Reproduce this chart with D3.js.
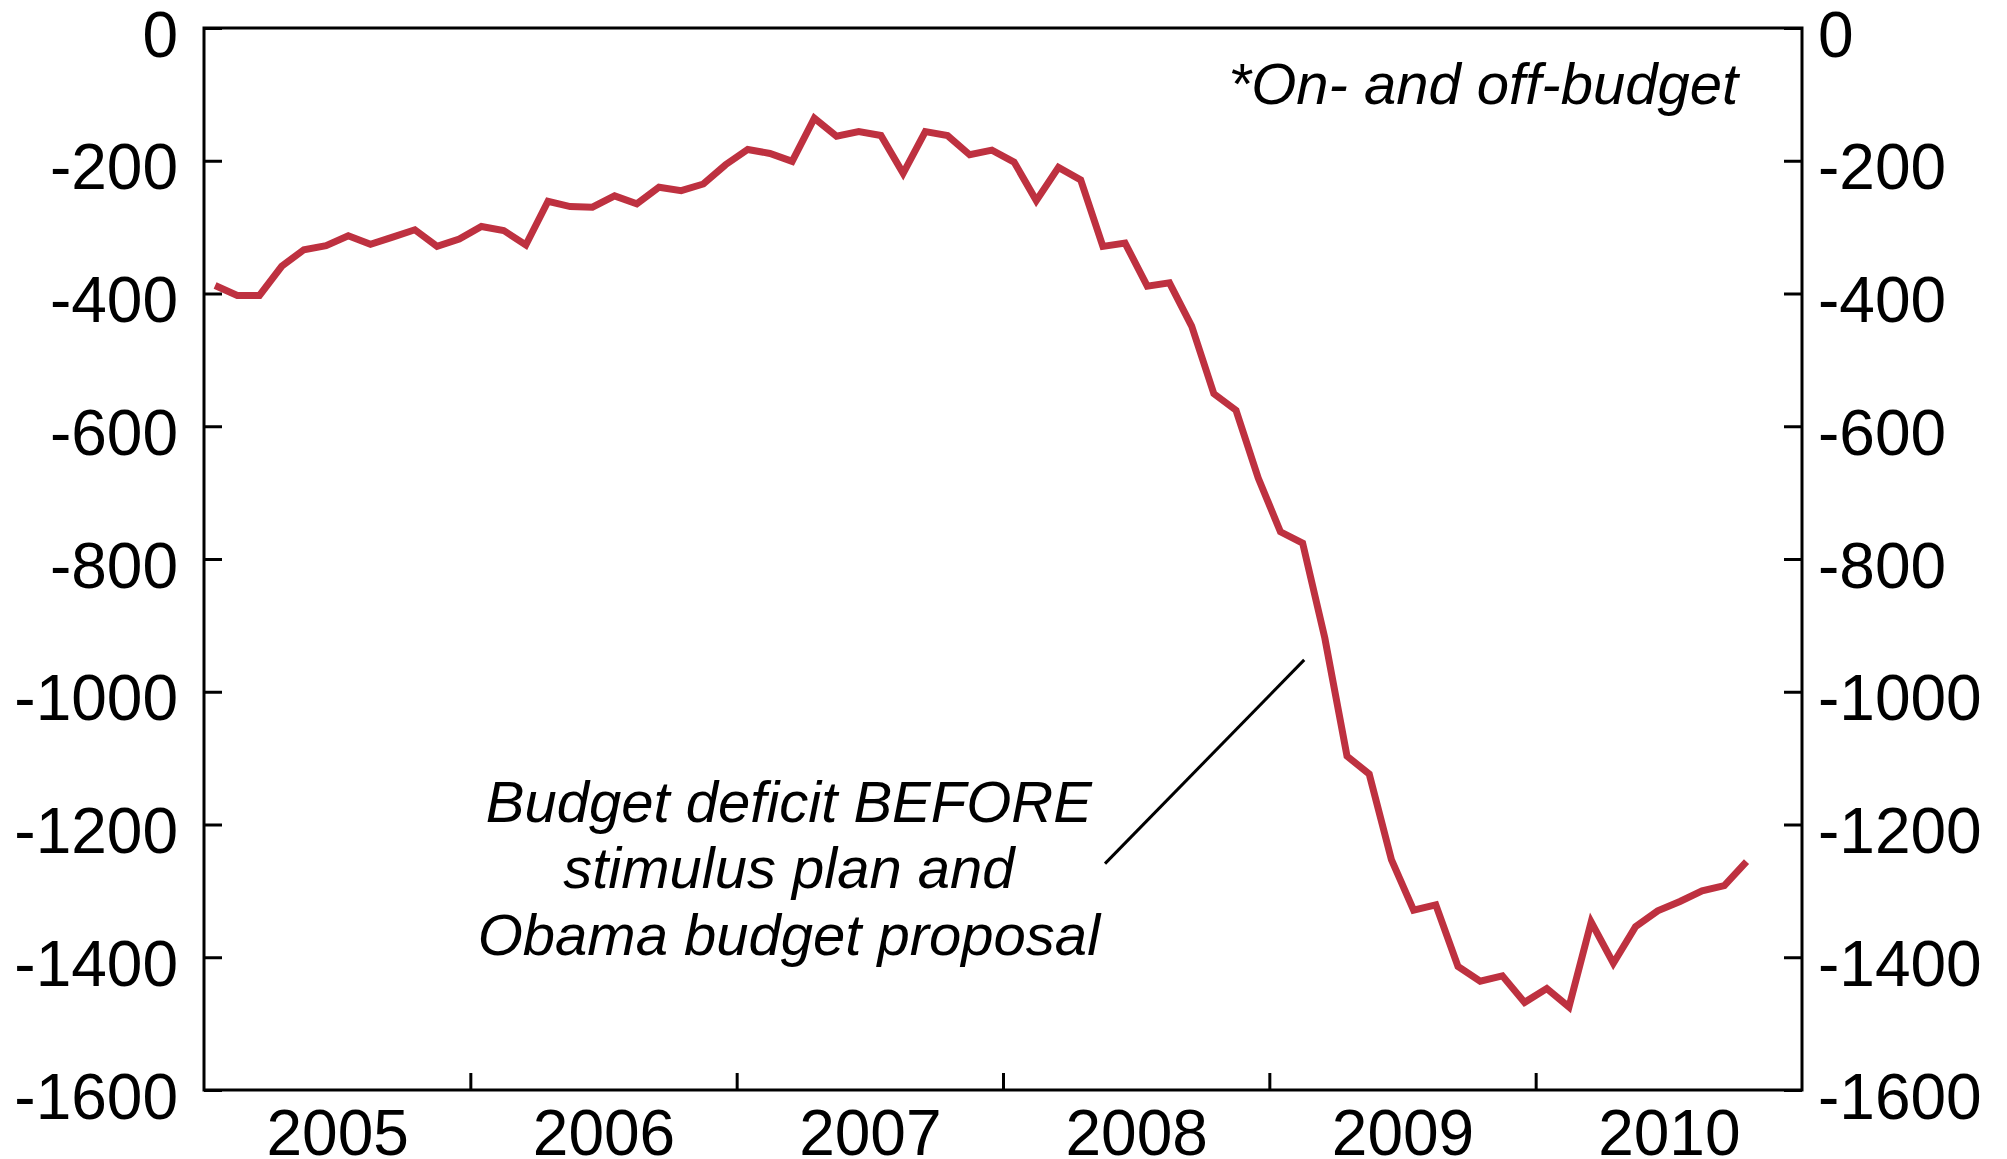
<!DOCTYPE html>
<html>
<head>
<meta charset="utf-8">
<script src="https://cdn.jsdelivr.net/npm/d3@7"></script>
<style>
body { margin: 0; background: #fff; }
svg { display: block; font-family: "Liberation Sans", Arial, sans-serif; }
</style>
</head>
<body>
<svg id="deficit_svg" width="2007" height="1159"></svg>
<script>
// 12-month budget balance, billions of dollars, one value per month (Jan 2005 - Oct 2010)
var deficit2005 = [-388, -403, -403, -359, -334, -328, -313, -326, -315, -304, -329, -318];
var deficit2006 = [-299, -305, -327, -261, -269, -270, -253, -265, -240, -245, -235, -206];
var deficit2007 = [-183, -189, -201, -136, -163, -156, -162, -219, -156, -162, -191, -184];
var deficit2008 = [-202, -260, -210, -229, -329, -324, -389, -384, -449, -551, -576, -678];
var deficit2009 = [-759, -776, -919, -1097, -1124, -1253, -1329, -1321, -1414, -1436, -1428, -1468];
var deficit2010 = [-1447, -1475, -1347, -1409, -1354, -1330, -1316, -1300, -1292, -1256];

var startYear = 2005;
var yearLabels = [2005, 2006, 2007, 2008, 2009, 2010];
var yearBreaks = [2006, 2007, 2008, 2009, 2010];
var yTicks = [0, -200, -400, -600, -800, -1000, -1200, -1400, -1600];

var noteText = "*On- and off-budget";
var annotationLines = ["Budget deficit BEFORE", "stimulus plan and", "Obama budget proposal"];

deficitChartMain();

function deficitChartMain() {
    deficitSvg = d3.select("#deficit_svg");
    chart_width = +deficitSvg.attr("width");
    chart_height = +deficitSvg.attr("height");
    chart_margin = { top: 28, bottom: 69, right: 205, left: 204 };
    chart_innerWidth = chart_width - chart_margin.left - chart_margin.right;
    chart_innerHeight = chart_height - chart_margin.top - chart_margin.bottom;
    drawDeficitChart();
}

function drawDeficitChart() {
    var g = deficitSvg.append("g").attr("transform", `translate(${chart_margin.left}, ${chart_margin.top})`);

    //monthly points, placed mid-month
    var allValues = [].concat(deficit2005, deficit2006, deficit2007, deficit2008, deficit2009, deficit2010);
    var deficitData = allValues.map(function(v, i) {
        return { date: startYear + (i + 0.5) / 12, value: v };
    });

    var xScale = d3.scaleLinear()
                    .domain([startYear, startYear + yearLabels.length])
                    .range([0, chart_innerWidth]);

    var yScale = d3.scaleLinear()
                    .domain([0, -1600])
                    .range([0, chart_innerHeight]);

    // plain hyphen, no thousands separator
    var plainFormat = d => String(d);

    //Axes
    var leftAxis = g.append("g")
                .call(d3.axisLeft(yScale).tickValues(yTicks).tickSize(-18).tickPadding(26).tickFormat(plainFormat));

    var rightAxis = g.append("g")
                .attr("transform", `translate(${chart_innerWidth}, 0)`)
                .call(d3.axisRight(yScale).tickValues(yTicks).tickSize(-18).tickPadding(16).tickFormat(plainFormat));

    var bottomTicks = g.append("g")
                .attr("transform", `translate(0, ${chart_innerHeight})`)
                .call(d3.axisBottom(xScale).tickValues(yearBreaks).tickSize(-17).tickFormat(""));

    var bottomLabels = g.append("g")
                .attr("transform", `translate(0, ${chart_innerHeight})`)
                .call(d3.axisBottom(xScale).tickValues(yearLabels.map(d => d + 0.5)).tickSize(0).tickPadding(20)
                      .tickFormat(d => String(Math.floor(d))));

    [leftAxis, rightAxis, bottomTicks, bottomLabels].forEach(function(ax) {
        ax.select(".domain").remove();
        ax.attr("font-size", 64).attr("font-family", null);
        ax.selectAll("line").attr("stroke", "#000").attr("stroke-width", 3);
        ax.selectAll("text").attr("fill", "#000");
    });
    leftAxis.selectAll("text").attr("dy", "0.44em");
    rightAxis.selectAll("text").attr("dy", "0.44em");

    //Frame
    g.append("rect")
        .attr("x", 0)
        .attr("y", 0)
        .attr("width", chart_innerWidth)
        .attr("height", chart_innerHeight)
        .attr("fill", "none")
        .attr("stroke", "#000")
        .attr("stroke-width", 3);

    //Deficit line
    var line = d3.line()
                .x(d => xScale(d.date))
                .y(d => yScale(d.value));

    g.append("path")
        .datum(deficitData)
        .attr("d", line)
        .attr("fill", "none")
        .attr("stroke", "#be3140")
        .attr("stroke-width", 7)
        .attr("stroke-linejoin", "miter");

    //Note, top right
    g.append("text")
        .attr("x", xScale(2010.76))
        .attr("y", yScale(-114))
        .attr("text-anchor", "end")
        .style("font-size", "58px")
        .style("font-style", "italic")
        .text(noteText);

    //Annotation
    var annotation = g.append("text")
        .attr("text-anchor", "middle")
        .style("font-size", "58px")
        .style("font-style", "italic");

    annotation.selectAll("tspan")
        .data(annotationLines)
        .enter()
        .append("tspan")
        .attr("x", xScale(2007.196))
        .attr("y", (d, i) => yScale(-1196 - i * 100))
        .text(d => d);

    g.append("line")
        .attr("x1", xScale(2008.383))
        .attr("y1", yScale(-1259))
        .attr("x2", xScale(2009.131))
        .attr("y2", yScale(-952))
        .attr("stroke", "#000")
        .attr("stroke-width", 3);
}
</script>
</body>
</html>
